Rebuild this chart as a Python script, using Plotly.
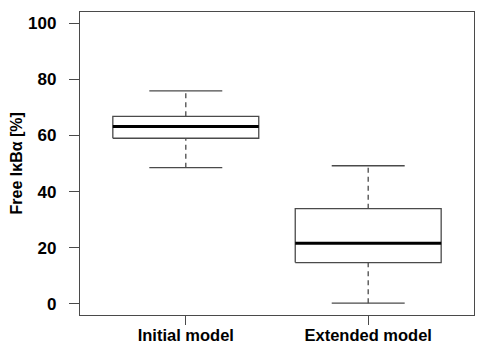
import plotly.graph_objects as go

categories = ["Initial model", "Extended model"]
lower_whisker = [48.5, 0.2]
q1 = [59.0, 14.7]
median = [63.2, 21.6]
q3 = [66.8, 33.9]
upper_whisker = [75.9, 49.2]
y_ticks = [0, 20, 40, 60, 80, 100]
y_title = "Free IκBα [%]"

BOX_HALF = 0.4
CAP_HALF = 0.2
LINE_COL = "#4a4a4a"
FONT = "Liberation Sans, Arial, sans-serif"

fig = go.Figure()
for i, cat in enumerate(categories):
    c = i + 1
    # whiskers (dashed)
    fig.add_trace(go.Scatter(x=[c, c], y=[q3[i], upper_whisker[i]], mode="lines",
                             line=dict(color=LINE_COL, width=1.3, dash="5px,4px"),
                             hoverinfo="skip", showlegend=False))
    fig.add_trace(go.Scatter(x=[c, c], y=[lower_whisker[i], q1[i]], mode="lines",
                             line=dict(color=LINE_COL, width=1.3, dash="5px,4px"),
                             hoverinfo="skip", showlegend=False))
    # caps
    for v in (upper_whisker[i], lower_whisker[i]):
        fig.add_trace(go.Scatter(x=[c - CAP_HALF, c + CAP_HALF], y=[v, v], mode="lines",
                                 line=dict(color=LINE_COL, width=1.3),
                                 hoverinfo="skip", showlegend=False))
    # box
    fig.add_trace(go.Scatter(x=[c - BOX_HALF, c + BOX_HALF, c + BOX_HALF, c - BOX_HALF, c - BOX_HALF],
                             y=[q1[i], q1[i], q3[i], q3[i], q1[i]], mode="lines",
                             line=dict(color=LINE_COL, width=1.3),
                             hoverinfo="skip", showlegend=False))
    # median
    fig.add_trace(go.Scatter(x=[c - BOX_HALF, c + BOX_HALF], y=[median[i], median[i]], mode="lines",
                             line=dict(color="#000000", width=3),
                             hoverinfo="skip", showlegend=False))

fig.add_annotation(text=y_title, xref="paper", yref="paper", x=-0.16, y=0.5,
                   xanchor="center", yanchor="middle", textangle=-90, showarrow=False,
                   font=dict(family=FONT, size=16, weight="bold", color="#000"))

fig.update_layout(
    width=488, height=346,
    margin=dict(l=72, r=22, t=4, b=39, pad=0, autoexpand=False),
    paper_bgcolor="white", plot_bgcolor="white",
    font=dict(family=FONT, color="#000000"),
    xaxis=dict(range=[0.42, 2.58], tickmode="array", tickvals=[1, 2], ticktext=categories,
               showgrid=False, zeroline=False, showline=True, mirror=True, automargin=False,
               linecolor=LINE_COL, linewidth=1.3, ticks="outside", ticklen=9,
               tickcolor=LINE_COL, tickwidth=1.3, ticklabelstandoff=-4,
               tickfont=dict(family=FONT, size=16.5, weight="bold", color="#000")),
    yaxis=dict(range=[-4, 104], tickmode="array", tickvals=y_ticks,
               showgrid=False, zeroline=False, showline=True, mirror=True, automargin=False,
               linecolor=LINE_COL, linewidth=1.3, ticks="outside", ticklen=10,
               tickcolor=LINE_COL, tickwidth=1.3, ticklabelstandoff=9,
               tickfont=dict(family=FONT, size=17, weight="bold", color="#000")),
)

fig.write_html("out.html")
